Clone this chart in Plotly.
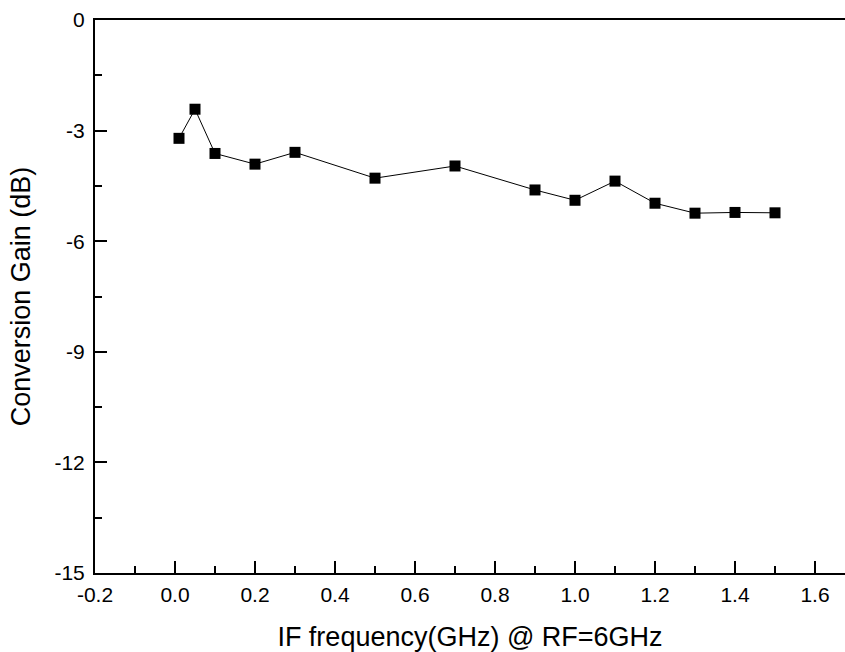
import plotly.graph_objects as go

freq_ghz = [0.01, 0.05, 0.1, 0.2, 0.3, 0.5, 0.7, 0.9, 1.0, 1.1, 1.2, 1.3, 1.4, 1.5]
gain_db = [-3.21, -2.42, -3.62, -3.91, -3.59, -4.29, -3.96, -4.61, -4.89, -4.37, -4.97, -5.24, -5.22, -5.23]

x_ticks = [-0.2, 0.0, 0.2, 0.4, 0.6, 0.8, 1.0, 1.2, 1.4, 1.6]
y_ticks = [0, -3, -6, -9, -12, -15]

fig = go.Figure()
fig.add_trace(go.Scatter(
    x=freq_ghz, y=gain_db, mode="lines+markers",
    line=dict(color="black", width=1),
    marker=dict(symbol="square", size=11, color="black"),
    showlegend=False,
))

font = "Liberation Sans, Arial, sans-serif"
axis_common = dict(
    showline=True, linecolor="black", linewidth=2, mirror=True,
    ticks="inside", ticklen=12, tickwidth=2, tickcolor="black",
    showgrid=False, zeroline=False,
    tickfont=dict(family=font, size=21, color="black"),
)

fig.update_xaxes(
    range=[-0.2, 1.675], tickvals=x_ticks,
    ticktext=[f"{v:.1f}" for v in x_ticks],
    minor=dict(dtick=0.1, ticks="inside", ticklen=7, tickwidth=2, tickcolor="black"),
    title=dict(text="IF frequency(GHz) @ RF=6GHz", font=dict(family=font, size=27, color="black"), standoff=22),
    ticklabelstandoff=2,
    **axis_common,
)
fig.update_yaxes(
    range=[-15, 0], tickvals=y_ticks,
    ticktext=[str(v) for v in y_ticks],
    minor=dict(dtick=1.5, ticks="inside", ticklen=7, tickwidth=2, tickcolor="black"),
    title=dict(text="Conversion Gain (dB)", font=dict(family=font, size=27, color="black"), standoff=16),
    ticklabelstandoff=4,
    **axis_common,
)

fig.update_layout(
    width=845, height=652,
    margin=dict(l=95, r=0, t=20, b=79, autoexpand=False),
    plot_bgcolor="white", paper_bgcolor="white",
)

fig.write_html("out.html", config={"displayModeBar": False},
               post_script="document.body.style.margin='0';document.body.style.overflow='hidden';")
